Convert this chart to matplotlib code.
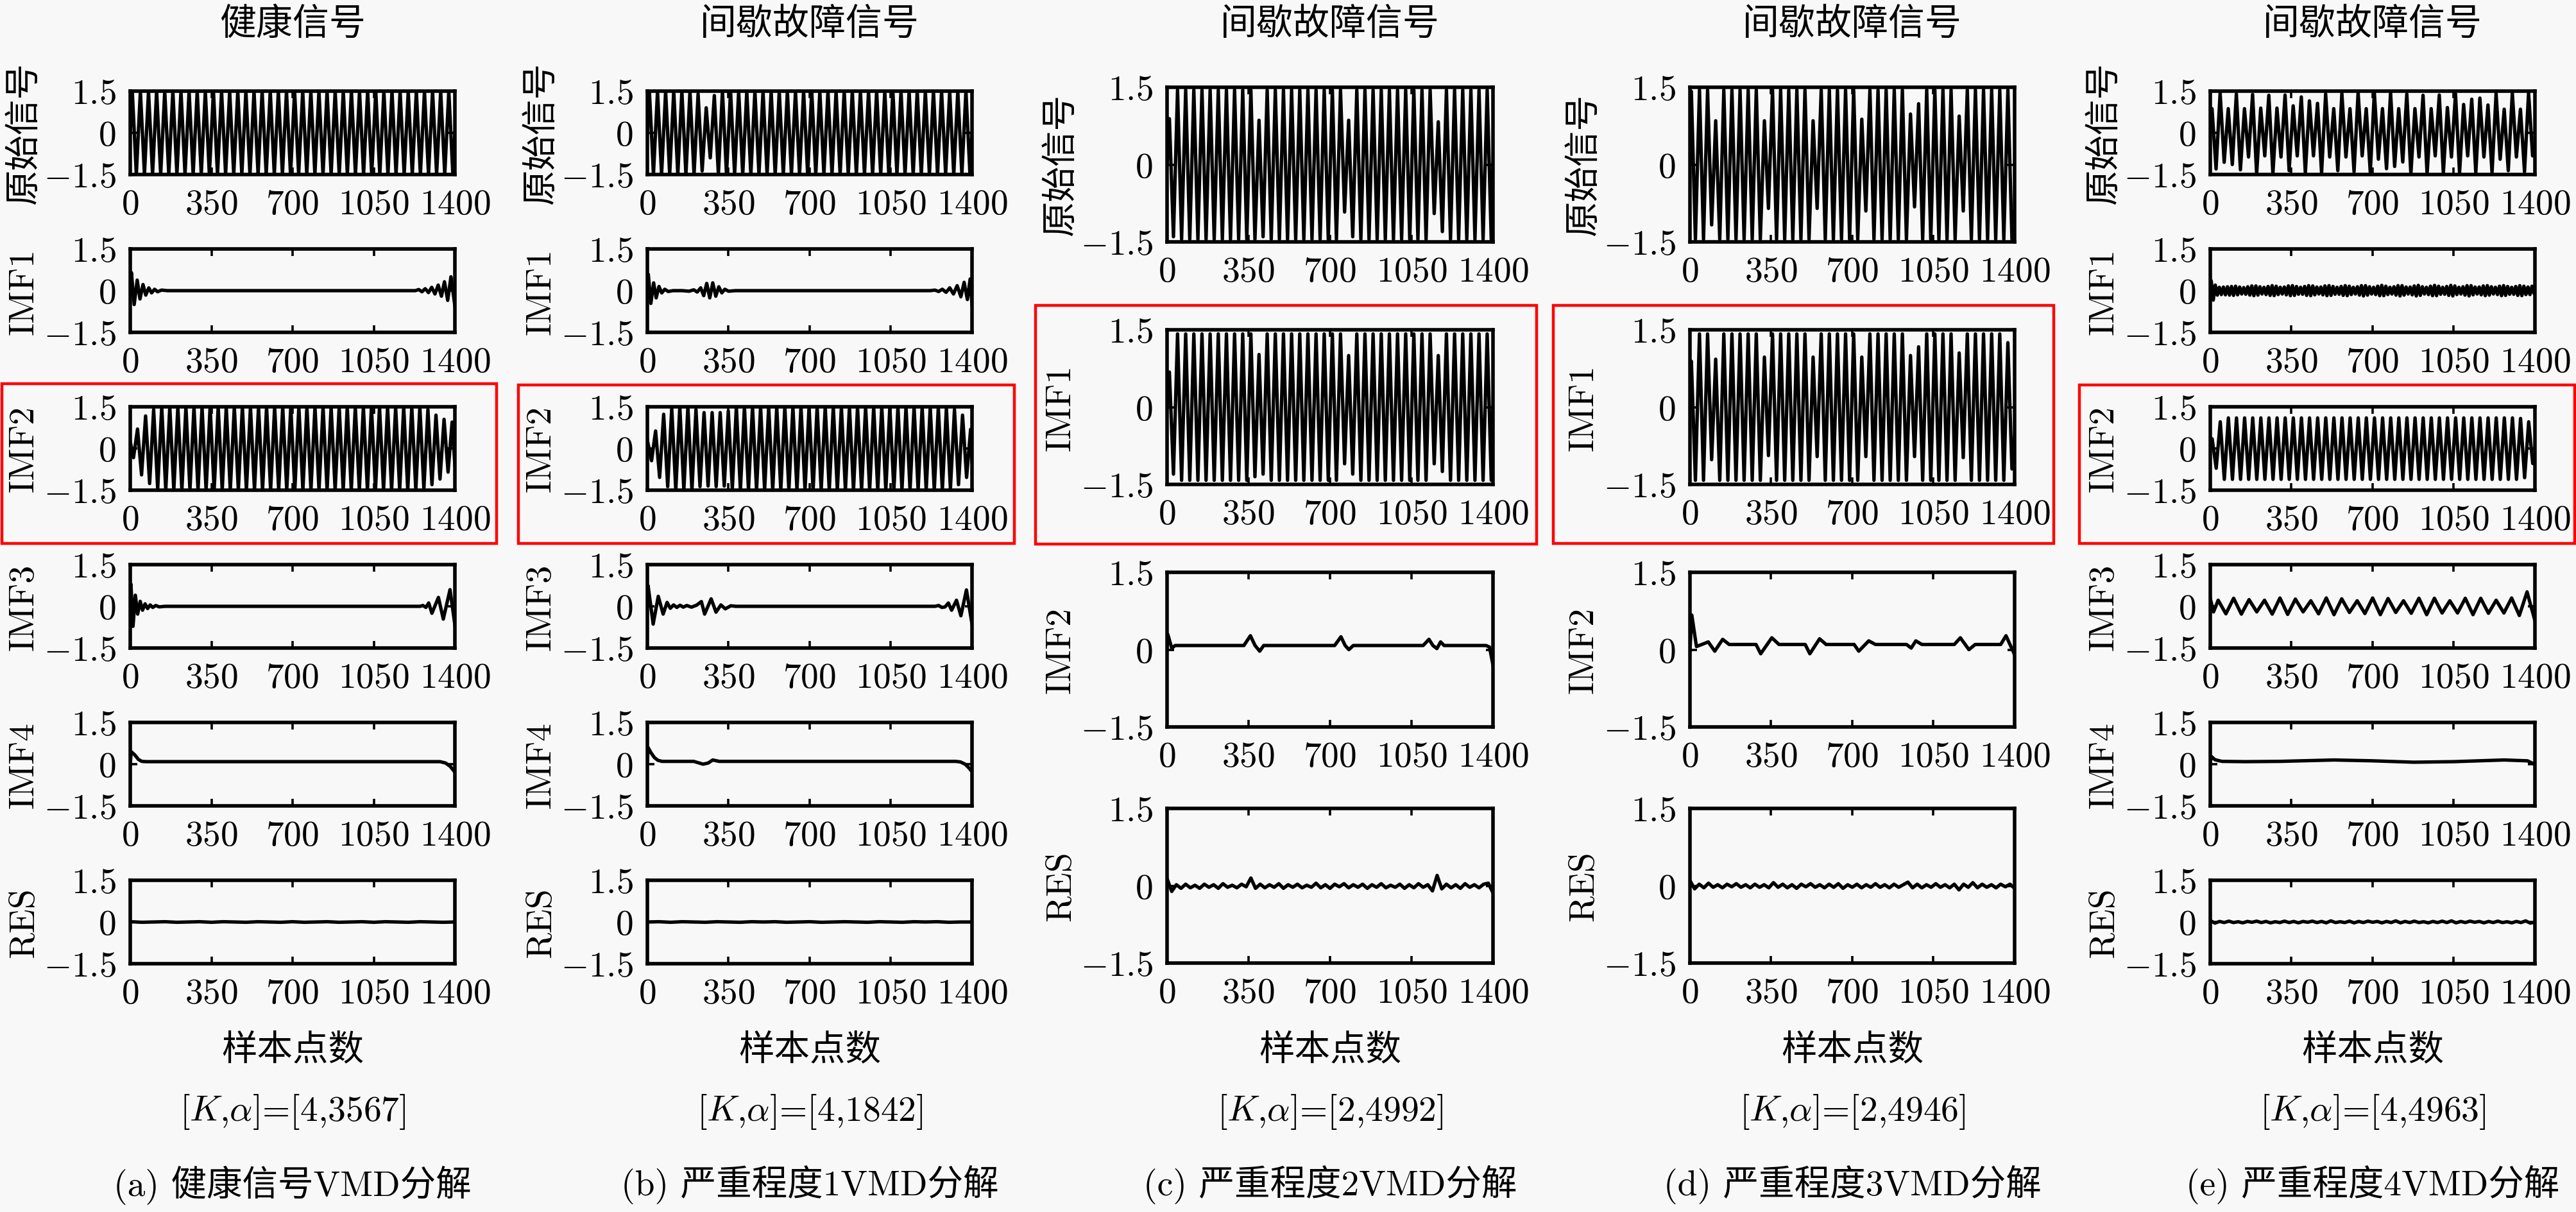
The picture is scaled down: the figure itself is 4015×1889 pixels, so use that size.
import numpy as np
import matplotlib
matplotlib.use("Agg")
import matplotlib.pyplot as plt
from matplotlib.patches import Rectangle

# ======================= DATA =======================
col_titles = ["健康信号", "间歇故障信号", "间歇故障信号", "间歇故障信号", "间歇故障信号"]
rows6 = ["原始信号", "IMF1", "IMF2", "IMF3", "IMF4", "RES"]
rows4 = ["原始信号", "IMF1", "IMF2", "RES"]
K_vals = [4, 4, 2, 2, 4]
alpha_vals = [3567, 1842, 4992, 4946, 4963]
captions = ["(a) 健康信号VMD分解", "(b) 严重程度1VMD分解", "(c) 严重程度2VMD分解",
            "(d) 严重程度3VMD分解", "(e) 严重程度4VMD分解"]
x_label = "样本点数"
x_ticks = [0, 350, 700, 1050, 1400]
y_ticks = [-1.5, 0, 1.5]
highlight = [2, 2, 1, 1, 2]

# ---- (a) healthy ----
a_orig_ext = [1.5, -1.5, 1.5, -1.5, 1.5, -1.5, 1.5, -1.5, 1.5, -1.5,
              1.5, -1.5, 1.5, -1.5, 1.5, -1.5, 1.5, -1.5, 1.5, -1.5,
              1.5, -1.5, 1.5, -1.5, 1.5, -1.5, 1.5, -1.5, 1.5, -1.5,
              1.5, -1.5, 1.5, -1.5, 1.5, -1.5, 1.5, -1.5, 1.5, -1.5,
              1.5, -1.5, 1.5, -1.5, 1.5, -1.5, 1.5, -1.5, 1.5, -1.5,
              1.5, -1.5, 1.5, -1.5, 1.5, -1.5, 1.5, -1.5, 1.5, -1.5,
              1.5, -1.5, 1.5, -1.5, 1.5, -1.5, 1.5, -1.5, 1.5, -1.5,
              1.5, -1.5, 1.5, -1.5, 1.5, -1.5, 1.5, -1.5, 1.5, -1.5]
a_imf1_x = [0, 5, 17, 30, 42, 55, 67, 80, 92, 105, 118, 135, 160,
            1230, 1244, 1258, 1272, 1286, 1300, 1314, 1328, 1342, 1355, 1369, 1383, 1400]
a_imf1_y = [0.0, 0.65, -0.5, 0.38, -0.3, 0.22, -0.16, 0.1, -0.08, 0.05, -0.04, 0.02, 0.0,
            0.0, 0.04, -0.04, 0.07, -0.07, 0.12, -0.12, 0.2, -0.2, 0.32, -0.35, 0.5, -0.55]
a_imf2_ext = [-0.33, 0.7, -0.95, 1.17, -1.26, 1.4, -1.45, 1.5, -1.5, 1.5,
              -1.5, 1.5, -1.5, 1.5, -1.5, 1.5, -1.5, 1.5, -1.5, 1.5,
              -1.5, 1.5, -1.5, 1.5, -1.5, 1.5, -1.5, 1.5, -1.5, 1.5,
              -1.5, 1.5, -1.5, 1.5, -1.5, 1.5, -1.5, 1.5, -1.5, 1.5,
              -1.5, 1.5, -1.5, 1.5, -1.5, 1.5, -1.5, 1.5, -1.5, 1.5,
              -1.5, 1.5, -1.5, 1.5, -1.5, 1.5, -1.5, 1.5, -1.5, 1.5,
              -1.5, 1.5, -1.5, 1.5, -1.5, 1.5, -1.5, 1.5, -1.5, 1.5,
              -1.5, 1.5, -1.45, 1.4, -1.3, 1.2, -1.1, 1.05, -0.85, 0.95]
a_imf3_x = [0, 3, 12, 22, 32, 43, 53, 64, 75, 86, 97, 110, 125, 150,
            1250, 1262, 1275, 1287, 1301, 1329, 1350, 1379, 1400]
a_imf3_y = [0.2, 0.8, -0.72, 0.4, -0.28, 0.18, -0.14, 0.09, -0.08, 0.05, -0.04, 0.03, -0.02, 0.0,
            0.0, 0.03, -0.04, 0.12, -0.25, 0.32, -0.46, 0.6, -0.67]
a_imf4_x = [0, 4, 20, 35, 50, 70, 1336, 1360, 1380, 1400]
a_imf4_y = [0.0, 0.45, 0.33, 0.17, 0.1, 0.09, 0.09, 0.04, -0.08, -0.29]
a_res = [0.01, -0.01, 0.0, 0.01, -0.01, 0.0, 0.01, -0.01, 0.01, 0.0,
         -0.01, 0.01, 0.0, -0.01, 0.01, -0.01, 0.0, 0.01, -0.01, 0.0,
         0.01, -0.01, 0.01, 0.0, -0.01, 0.01, 0.0, -0.01, 0.0]

# ---- (b) severity 1 ----
b_orig_ext = [1.5, -1.5, 1.5, -1.5, 1.5, -1.5, 1.5, -1.5, 1.5, -1.5,
              1.5, -1.5, 1.4, -1.37, 0.9, -0.9, 1.34, -1.5, 1.5, -1.5,
              1.5, -1.5, 1.5, -1.5, 1.5, -1.5, 1.5, -1.5, 1.5, -1.5,
              1.5, -1.5, 1.5, -1.5, 1.5, -1.5, 1.5, -1.5, 1.5, -1.5,
              1.5, -1.5, 1.5, -1.5, 1.5, -1.5, 1.5, -1.5, 1.5, -1.5,
              1.5, -1.5, 1.5, -1.5, 1.5, -1.5, 1.5, -1.5, 1.5, -1.5,
              1.5, -1.5, 1.5, -1.5, 1.5, -1.5, 1.5, -1.5, 1.5, -1.5,
              1.5, -1.5, 1.5, -1.5, 1.5, -1.5, 1.5, -1.5, 1.5, -1.5]
b_imf1_x = [0, 4, 15, 27, 38, 50, 62, 75, 90, 110, 150, 180, 200, 215, 230, 243, 256, 269, 282, 295,
            308, 321, 334, 350, 380, 1220, 1240, 1256, 1272, 1288, 1304, 1320, 1336, 1352, 1366, 1380,
            1392, 1400]
b_imf1_y = [0.0, 0.59, -0.46, 0.28, -0.26, 0.15, -0.08, 0.05, -0.03, 0.0, 0.0, -0.02, 0.03, -0.05,
            0.1, -0.18, 0.26, -0.26, 0.28, -0.2, 0.14, -0.08, 0.05, -0.02, 0.0, 0.0, 0.02, -0.03,
            0.05, -0.06, 0.1, -0.12, 0.18, -0.22, 0.3, -0.32, 0.42, -0.52]
b_imf2_ext = [-0.44, 0.63, -1.04, 1.23, -1.37, 1.45, -1.5, 1.5, -1.5, 1.5,
              -1.5, 1.4, -1.37, 1.29, -1.35, 1.29, -1.37, 1.29, -1.35, 1.35,
              -1.45, 1.5, -1.5, 1.5, -1.5, 1.5, -1.5, 1.5, -1.5, 1.5,
              -1.5, 1.5, -1.5, 1.5, -1.5, 1.5, -1.5, 1.5, -1.5, 1.5,
              -1.5, 1.5, -1.5, 1.5, -1.5, 1.5, -1.5, 1.5, -1.5, 1.5,
              -1.5, 1.5, -1.5, 1.5, -1.5, 1.5, -1.5, 1.5, -1.5, 1.5,
              -1.5, 1.5, -1.5, 1.5, -1.5, 1.5, -1.5, 1.5, -1.5, 1.5,
              -1.5, 1.5, -1.5, 1.45, -1.45, 1.4, -1.3, 1.2, -1.04, 0.69]
b_imf3_x = [0, 3, 25, 47, 68, 85, 99, 113, 127, 141, 155, 170, 190, 212, 233, 247, 275, 296, 317, 336,
            360, 381, 1240, 1256, 1270, 1284, 1298, 1312, 1333, 1352, 1376, 1400]
b_imf3_y = [0.1, 0.75, -0.64, 0.36, -0.28, 0.14, -0.07, 0.05, -0.04, 0.04, -0.03, 0.03, -0.03, 0.04,
            0.17, -0.28, 0.27, -0.21, 0.05, -0.09, 0.02, 0.0, 0.0, 0.03, -0.04, -0.02, 0.12, -0.14,
            0.22, -0.34, 0.59, -0.64]
b_imf4_x = [0, 3, 15, 30, 45, 63, 200, 240, 262, 282, 310, 1330, 1350, 1370, 1385, 1400]
b_imf4_y = [0.05, 0.6, 0.42, 0.24, 0.14, 0.1, 0.1, 0.0, 0.04, 0.15, 0.1, 0.1, 0.08, 0.0, -0.12, -0.27]
b_res = [0.0, 0.01, -0.01, 0.01, 0.0, -0.01, 0.01, 0.0, -0.01, 0.01,
         0.0, 0.01, -0.01, 0.0, 0.01, -0.01, 0.0, 0.01, 0.0, -0.01,
         0.01, 0.0, -0.01, 0.01, 0.0, 0.01, -0.01, 0.0, 0.0]

# ---- (c) severity 2 ----
c_orig_ext = [0.89, -1.4, 1.45, -1.45, 1.45, -1.45, 1.45, -1.45, 1.45, -1.45,
              1.45, -1.45, 1.45, -1.45, 1.45, -1.45, 1.45, -1.45, 1.45, -1.45,
              1.45, -1.45, 0.86, -1.4, 1.45, -1.45, 1.45, -1.45, 1.45, -1.45,
              1.45, -1.45, 1.45, -1.45, 1.45, -1.45, 1.45, -1.45, 1.45, -1.45,
              1.45, -1.45, 1.45, -0.92, 0.86, -1.4, 1.45, -1.45, 1.45, -1.45,
              1.45, -1.45, 1.45, -1.45, 1.45, -1.45, 1.45, -1.45, 1.45, -1.45,
              1.45, -1.45, 1.45, -1.45, 1.45, -0.95, 0.83, -1.3, 1.45, -1.45,
              1.45, -1.45, 1.45, -1.45, 1.45, -1.45, 1.45, -1.45, 1.45, -1.45]
c_imf1_ext = [0.68, -1.3, 1.42, -1.42, 1.42, -1.42, 1.42, -1.42, 1.42, -1.42,
              1.42, -1.42, 1.42, -1.42, 1.42, -1.42, 1.42, -1.42, 1.42, -1.42,
              1.42, -1.35, 1.02, -1.3, 1.42, -1.42, 1.42, -1.42, 1.42, -1.42,
              1.42, -1.42, 1.42, -1.42, 1.42, -1.42, 1.42, -1.42, 1.42, -1.42,
              1.42, -1.42, 1.42, -1.1, 1.0, -1.3, 1.42, -1.42, 1.42, -1.42,
              1.42, -1.42, 1.42, -1.42, 1.42, -1.42, 1.42, -1.42, 1.42, -1.42,
              1.42, -1.42, 1.42, -1.42, 1.42, -1.1, 1.0, -1.25, 1.42, -1.42,
              1.42, -1.42, 1.42, -1.42, 1.42, -1.42, 1.42, -1.42, 1.42, -1.42]
c_imf2_x = [0, 3, 20, 35, 330, 358, 378, 398, 415, 720, 747, 765, 781, 800, 1100, 1125, 1142,
            1159, 1175, 1190, 1370, 1385, 1400]
c_imf2_y = [0.0, 0.3, 0.03, 0.08, 0.08, 0.27, 0.08, -0.03, 0.08, 0.08, 0.25, 0.08, 0.0, 0.08,
            0.08, 0.2, 0.08, 0.02, 0.15, 0.08, 0.08, 0.05, -0.3]
c_res = [0.14, -0.11, 0.02, -0.05, 0.03, -0.04, 0.01, -0.05, 0.03, -0.03,
         0.02, -0.05, 0.04, -0.03, 0.01, -0.04, 0.03, -0.02, 0.15, -0.05,
         0.03, -0.04, 0.02, -0.03, 0.04, -0.05, 0.02, -0.03, 0.03, -0.04,
         0.01, -0.03, 0.05, -0.04, 0.02, -0.05, 0.03, -0.02, 0.04, -0.04,
         0.02, -0.03, 0.03, -0.05, 0.02, -0.03, 0.04, -0.04, 0.01, -0.03,
         0.03, -0.05, 0.02, -0.04, 0.04, -0.03, 0.02, -0.1, 0.2, -0.06,
         0.03, -0.04, 0.02, -0.05, 0.04, -0.03, 0.02, -0.04, 0.03, 0.05, -0.14]

# ---- (d) severity 3 ----
d_orig_ext = [1.42, -1.45, 1.45, -1.45, 1.45, -1.17, 0.85, -1.45, 1.45, -1.45,
              1.45, -1.45, 1.45, -1.45, 1.45, -1.45, 1.45, -1.45, 0.85, -0.85,
              1.45, -1.45, 1.45, -1.45, 1.45, -1.45, 1.45, -1.45, 1.45, -1.45,
              0.85, -0.85, 1.45, -1.45, 1.45, -1.45, 1.45, -1.45, 1.45, -1.45,
              1.45, -1.45, 0.88, -0.9, 1.45, -1.45, 1.45, -1.45, 1.45, -1.45,
              1.45, -1.45, 1.45, -1.45, 0.98, -0.82, 1.18, -1.45, 1.45, -1.45,
              1.45, -1.45, 1.45, -1.45, 1.45, -1.45, 0.94, -0.9, 1.45, -1.45,
              1.45, -1.45, 1.45, -1.45, 1.45, -1.45, 1.45, -1.45, 1.45, -1.45]
d_imf1_ext = [0.89, -1.42, 1.42, -1.42, 1.42, -1.02, 0.93, -1.42, 1.42, -1.42,
              1.42, -1.42, 1.42, -1.42, 1.42, -1.42, 1.42, -1.42, 0.97, -0.94,
              1.42, -1.42, 1.42, -1.42, 1.42, -1.42, 1.42, -1.42, 1.42, -1.42,
              0.97, -0.96, 1.42, -1.42, 1.42, -1.42, 1.42, -1.42, 1.42, -1.42,
              1.42, -1.42, 0.97, -0.96, 1.42, -1.42, 1.42, -1.42, 1.42, -1.42,
              1.42, -1.42, 1.42, -1.42, 1.0, -0.96, 1.17, -1.42, 1.42, -1.42,
              1.42, -1.42, 1.42, -1.42, 1.42, -1.42, 1.05, -0.98, 1.42, -1.42,
              1.42, -1.42, 1.42, -1.42, 1.42, -1.42, 1.42, -1.42, 1.25, -1.2]
d_imf2_x = [0, 8, 28, 51, 79, 107, 141, 169, 285, 305, 353, 384, 497, 517, 559, 587, 708, 728,
            771, 800, 934, 954, 974, 1000, 1140, 1166, 1203, 1230, 1340, 1363, 1400]
d_imf2_y = [-0.02, 0.67, 0.06, 0.1, 0.15, -0.03, 0.2, 0.1, 0.1, -0.08, 0.23, 0.1, 0.1, -0.08,
            0.21, 0.1, 0.1, -0.03, 0.17, 0.1, 0.1, 0.03, 0.17, 0.1, 0.1, 0.23, 0.0, 0.1, 0.1,
            0.27, -0.1]
d_res = [0.1, -0.06, 0.03, -0.04, 0.05, -0.03, 0.02, -0.04, 0.03, -0.02,
         0.04, -0.03, 0.02, -0.04, 0.03, -0.03, 0.02, -0.04, 0.06, -0.03,
         0.03, -0.04, 0.02, -0.05, 0.03, -0.02, 0.04, -0.03, 0.02, -0.04,
         0.03, -0.03, 0.04, -0.05, 0.02, -0.03, 0.03, -0.04, 0.02, -0.03,
         0.04, -0.03, 0.02, -0.04, 0.03, -0.03, 0.02, 0.07, -0.04, 0.03,
         -0.04, 0.02, -0.03, 0.04, -0.03, 0.02, -0.04, 0.03, -0.08, 0.03,
         -0.03, 0.06, -0.04, 0.03, -0.03, 0.02, -0.04, 0.03, -0.02, 0.03, -0.05]

# ---- (e) severity 4 ----
e_orig_ext = [0.87, -1.30, 1.44, -1.06, 0.87, -1.14, 1.40, -1.33, 0.87, -0.87,
              1.38, -1.48, 0.89, -0.83, 1.35, -1.48, 0.89, -0.87, 1.36, -1.36,
              0.97, -0.83, 1.29, -1.45, 1.15, -0.83, 1.06, -1.45, 1.40, -0.87,
              0.87, -1.36, 1.42, -0.87, 0.87, -1.40, 1.45, -0.83, 0.87, -1.42,
              1.45, -0.95, 0.87, -1.29, 1.45, -1.21, 0.87, -1.05, 1.40, -1.48,
              0.87, -0.87, 1.35, -1.48, 0.87, -0.83, 1.36, -1.45, 0.91, -0.87,
              1.40, -1.44, 1.02, -0.83, 1.21, -1.44, 1.25, -0.87, 1.00, -1.44,
              1.42, -0.95, 0.85, -1.36, 1.44, -0.87, 0.85, -1.40, 1.44, -0.83]
e_imf1_ext = [0.36, -0.34, 0.2, -0.16, 0.12, -0.14, 0.13, -0.15, 0.14, -0.16,
              0.15, -0.17, 0.16, -0.15, 0.13, -0.12, 0.11, -0.13, 0.14, -0.16,
              0.17, -0.18, 0.17, -0.16, 0.14, -0.12, 0.12, -0.14, 0.15, -0.17,
              0.18, -0.18, 0.16, -0.14, 0.12, -0.12, 0.13, -0.15, 0.17, -0.18,
              0.18, -0.17, 0.15, -0.13, 0.12, -0.13, 0.15, -0.17, 0.18, -0.18,
              0.17, -0.15, 0.13, -0.12, 0.13, -0.15, 0.17, -0.18, 0.18, -0.17,
              0.15, -0.13, 0.12, -0.13, 0.15, -0.17, 0.18, -0.18, 0.16, -0.14,
              0.12, -0.12, 0.14, -0.16, 0.18, -0.19, 0.18, -0.16, 0.14, -0.12,
              0.12, -0.14, 0.16, -0.18, 0.19, -0.18, 0.16, -0.14, 0.12, -0.12,
              0.14, -0.16, 0.18, -0.19, 0.18, -0.16, 0.13, -0.12, 0.13, -0.15,
              0.17, -0.19, 0.19, -0.17, 0.14, -0.12, 0.12, -0.14, 0.16, -0.18,
              0.19, -0.18, 0.16, -0.13, 0.12, -0.13, 0.15, -0.17, 0.19, -0.19,
              0.17, -0.14, 0.12, -0.12, 0.14, -0.16, 0.18, -0.19, 0.18, -0.15,
              0.13, -0.12, 0.13, -0.15, 0.17, -0.18, 0.18, -0.16, 0.14, -0.12,
              0.12, -0.14, 0.16, -0.18, 0.18, -0.17, 0.15, -0.13, 0.12, -0.13,
              0.15, -0.17, 0.18, -0.18, 0.16, -0.14, 0.13, -0.14, 0.16, -0.1]
e_imf2_ext = [0.35, -0.71, 0.96, -1.11, 1.1, -1.11, 1.1, -1.11, 1.1, -1.11,
              1.1, -1.11, 1.1, -1.11, 1.1, -1.11, 1.1, -1.11, 1.1, -1.11,
              1.1, -1.11, 1.1, -1.11, 1.1, -1.11, 1.1, -1.11, 1.1, -1.11,
              1.1, -1.11, 1.1, -1.11, 1.1, -1.11, 1.1, -1.11, 1.1, -1.11,
              1.1, -1.11, 1.1, -1.11, 1.1, -1.11, 1.1, -1.11, 1.1, -1.11,
              1.1, -1.11, 1.1, -1.11, 1.1, -1.11, 1.1, -1.11, 1.1, -1.11,
              1.1, -1.11, 1.1, -1.11, 1.1, -1.11, 1.1, -1.11, 1.1, -1.11,
              1.1, -1.11, 1.1, -1.11, 1.1, -1.11, 1.08, -1.05, 0.96, -0.54]
e_imf3_ext = [0.22, -0.27, 0.29, -0.28, 0.24, -0.2, 0.22, -0.28, 0.3, -0.29,
              0.26, -0.2, 0.2, -0.27, 0.3, -0.3, 0.27, -0.22, 0.2, -0.26,
              0.3, -0.3, 0.28, -0.22, 0.2, -0.25, 0.29, -0.3, 0.29, -0.24,
              0.2, -0.24, 0.29, -0.3, 0.29, -0.25, 0.22, -0.24, 0.3, -0.33, 0.52]
e_imf4_x = [0, 4, 20, 50, 150, 300, 533, 700, 878, 1050, 1267, 1368, 1385, 1400]
e_imf4_y = [0.05, 0.28, 0.16, 0.1, 0.09, 0.1, 0.15, 0.12, 0.07, 0.09, 0.15, 0.12, 0.05, -0.01]
e_res = [0.05, -0.04, 0.02, -0.02, 0.03, -0.02, 0.01, -0.03, 0.02, -0.01,
         0.03, -0.02, 0.02, -0.03, 0.01, -0.02, 0.03, -0.02, 0.02, -0.03,
         0.02, -0.01, 0.03, -0.02, 0.02, -0.03, 0.04, -0.02, 0.01, -0.02,
         0.03, -0.03, 0.02, -0.02, 0.03, -0.01, 0.02, -0.03, 0.02, -0.02,
         0.04, -0.03, 0.02, -0.02, 0.03, -0.02, 0.01, -0.03, 0.02, -0.02,
         0.03, -0.02, 0.04, -0.03, 0.02, -0.02, 0.03, -0.01, 0.02, -0.03,
         0.02, -0.02, 0.03, -0.02, 0.01, -0.03, 0.02, -0.02, 0.04, -0.04, 0.0]


# ======================= HELPERS =======================
def osc(x_first, x_last, ext, pre=(), post=()):
    """Polyline through read extrema placed between the first and last extremum sample."""
    xs = list(np.linspace(x_first, x_last, len(ext)))
    return (np.array([p[0] for p in pre] + xs + [p[0] for p in post]),
            np.array([p[1] for p in pre] + list(ext) + [p[1] for p in post]))


def even(vals):
    return np.linspace(0, 1400, len(vals)), np.array(vals)


series = [
    [osc(8.75, 1391.25, a_orig_ext, [(0, 0.0)], [(1400, 0.0)]),
     (np.array(a_imf1_x), np.array(a_imf1_y)),
     osc(14, 1388, a_imf2_ext, [(0, 0.25)], [(1400, -0.6)]),
     (np.array(a_imf3_x), np.array(a_imf3_y)),
     (np.array(a_imf4_x), np.array(a_imf4_y)),
     even(a_res)],
    [osc(8.75, 1391.25, b_orig_ext, [(0, 0.0)], [(1400, 0.0)]),
     (np.array(b_imf1_x), np.array(b_imf1_y)),
     osc(18, 1394, b_imf2_ext, [(0, 0.3)], [(1400, -0.5)]),
     (np.array(b_imf3_x), np.array(b_imf3_y)),
     (np.array(b_imf4_x), np.array(b_imf4_y)),
     even(b_res)],
    [osc(10, 1392.5, c_orig_ext, [(0, 0.0)], [(1400, 0.0)]),
     osc(10, 1392.5, c_imf1_ext, [(0, 0.0)], [(1400, 0.0)]),
     (np.array(c_imf2_x), np.array(c_imf2_y)),
     even(c_res)],
    [osc(6, 1388.5, d_orig_ext, [(0, 0.0)], [(1400, -0.9)]),
     osc(6, 1388.5, d_imf1_ext, [(0, 0.0)], [(1400, -0.58)]),
     (np.array(d_imf2_x), np.array(d_imf2_y)),
     even(d_res)],
    [osc(7.4, 1390, e_orig_ext, [(0, 0.6)], [(1400, -0.6)]),
     osc(4, 1396, e_imf1_ext, [(0, 0.0)], [(1400, 0.0)]),
     osc(8, 1390.5, e_imf2_ext, [(0, 0.3)], [(1400, -0.3)]),
     osc(34, 1366, e_imf3_ext, [(0, 0.28), (14, -0.2)], [(1400, -0.52)]),
     (np.array(e_imf4_x), np.array(e_imf4_y)),
     even(e_res)],
]
row_names = [rows6, rows6, rows4, rows4, rows6]

# ======================= LAYOUT (pixels) =======================
W, H = 4016, 1890
BG = "#f8f8f8"
CJK = ["cmr10", "Noto Sans CJK SC", "DejaVu Sans"]
plt.rcParams["mathtext.fontset"] = "cm"
plt.rcParams["font.family"] = CJK
plt.rcParams["axes.formatter.use_mathtext"] = True

col_x = [(203, 709), (1009, 1515), (1819, 2327), (2634, 3140), (3445, 3951)]
tops6 = [143, 389, 635, 881, 1127, 1373]
tops4 = [137, 515, 893, 1261]
col_tops = [tops6, tops6, tops4, tops4, tops6]
col_h = [130, 130, 241, 241, 130]
red_boxes = [(3, 599, 774, 848), (808, 601, 1581, 848), (1614, 477, 2395, 849),
             (2421, 477, 3201, 848), (3241, 601, 4013, 848)]
FS = 20

fig = plt.figure(figsize=(W / 200, H / 200), dpi=200, facecolor=BG)


def fx(px):
    return px / W


def fy(py):
    return 1 - py / H


for c in range(5):
    x0, x1 = col_x[c]
    h = col_h[c]
    for r, top in enumerate(col_tops[c]):
        ax = fig.add_axes([fx(x0), fy(top + h), (x1 - x0) / W, h / H])
        ax.set_facecolor("none")
        xs, ys = series[c][r]
        ax.plot(xs, ys, color="black", lw=1.9, solid_joinstyle="round")
        ax.set_xlim(0, 1400)
        ax.set_ylim(-1.5, 1.5)
        ax.set_xticks(x_ticks)
        ax.set_xticklabels([f"${v}$" for v in x_ticks])
        ax.set_yticks(y_ticks)
        ax.set_yticklabels([f"${v:g}$" for v in y_ticks])
        ax.tick_params(direction="in", top=True, right=True, length=4, width=1.3,
                       labelsize=FS, pad=8)
        for s in ax.spines.values():
            s.set_linewidth(2.0)
        fig.text(fx(x0 - 165), fy(top + h / 2), row_names[c][r], rotation=90,
                 ha="center", va="center", fontsize=FS, family=CJK)
    xc = (x0 + x1) / 2
    fig.text(fx(xc), fy(38), col_titles[c], ha="center", va="center", fontsize=20.5, family=CJK)
    fig.text(fx(xc), fy(1638), x_label, ha="center", va="center", fontsize=FS, family=CJK)
    fig.text(fx(xc), fy(1733), rf"$[K{{,}}\alpha]$=[{K_vals[c]},{alpha_vals[c]}]",
             ha="center", va="center", fontsize=FS, family=CJK)
    fig.text(fx(xc), fy(1847), captions[c], ha="center", va="center", fontsize=FS, family=CJK)
    bx0, by0, bx1, by1 = red_boxes[c]
    fig.add_artist(Rectangle((fx(bx0), fy(by1)), (bx1 - bx0) / W, (by1 - by0) / H,
                             transform=fig.transFigure, fill=False, edgecolor="#ff0000", lw=1.6))

fig.savefig("out.png", dpi=200, facecolor=BG)
